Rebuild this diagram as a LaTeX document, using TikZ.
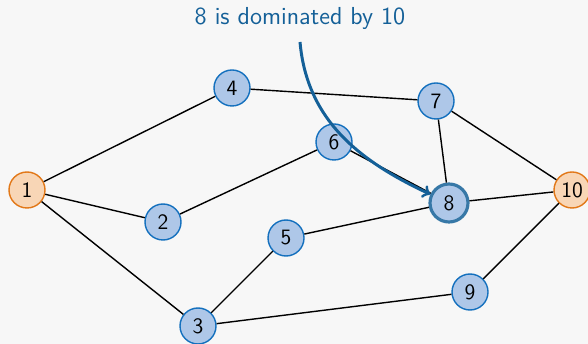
\documentclass[tikz,border=0pt,11pt]{standalone}
\usepackage{amsmath}
\usepackage{amssymb}
\usepackage{tikz}
\definecolor{bg_grey}{RGB}{247,247,247}
\definecolor{node_blue}{RGB}{174,199,232}
\definecolor{line_blue}{RGB}{20,112,190}
\definecolor{dark_blue}{RGB}{20,96,152}
\definecolor{node_orange}{RGB}{248,214,182}
\definecolor{line_orange}{RGB}{226,120,24}
\tikzset{
	vertex/.style={circle,draw=line_blue,fill=node_blue,thick,minimum size=0.72cm,inner sep=0pt,font=\sffamily\fontsize{12.5}{15}\selectfont},
	terminal/.style={vertex,draw=line_orange,fill=node_orange},
	picked/.style={vertex,draw=dark_blue!85,line width=1.8pt,minimum size=0.76cm}
}

\begin{document}
\begin{tikzpicture}
	\fill[bg_grey] (0,0) rectangle (11.76,6.88);
	\useasboundingbox (0,0) rectangle (11.76,6.88);

	\node[terminal] (1) at (0.54,3.08) {1};
	\node[vertex] (2) at (3.26,2.44) {2};
	\node[vertex] (3) at (3.96,0.36) {3};
	\node[vertex] (4) at (4.64,5.12) {4};
	\node[vertex] (5) at (5.72,2.12) {5};
	\node[vertex] (6) at (6.68,4.04) {6};
	\node[vertex] (7) at (8.72,4.86) {7};
	\node[picked] (8) at (8.98,2.82) {8};
	\node[vertex] (9) at (9.40,1.04) {9};
	\node[terminal] (10) at (11.44,3.08) {10};

	\foreach \x/\y in {1/4,1/2,1/3,2/6,4/7,6/8,7/8,7/10,8/10,5/8,3/5,3/9,9/10}
		\draw[black,thick] (\x) -- (\y);

	\node[text=dark_blue,font=\sffamily\fontsize{14}{17}\selectfont] (msg) at (6.0,6.52) {8 is dominated by 10};
	\coordinate (from) at (6.0,6.04);
	\draw[dark_blue,line width=1.7pt,->] (from) to[out=-85,in=155] (8);
\end{tikzpicture}
\end{document}
